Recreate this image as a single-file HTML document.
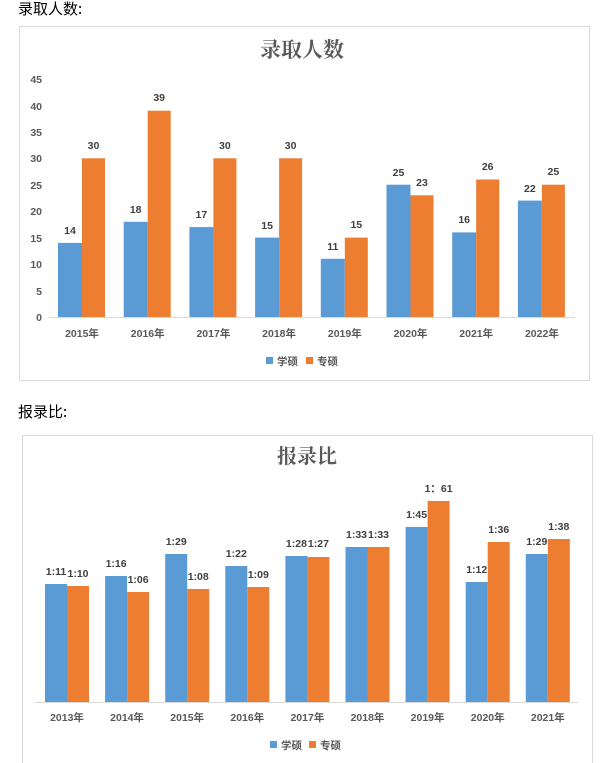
<!DOCTYPE html>
<html><head><meta charset="utf-8"><style>
body{margin:0;background:#fff;width:615px;height:763px;overflow:hidden}
svg{display:block}
text{font-family:"Liberation Sans","Noto Sans CJK SC",sans-serif}
.t{font-size:10.5px;font-weight:bold;fill:#404040}
.ax{font-size:10.5px;font-weight:bold;fill:#595959}
</style></head><body>
<svg width="615" height="763" xmlns="http://www.w3.org/2000/svg">
<text x="18" y="14" font-size="15" fill="#000" style="font-family:'Noto Sans CJK SC',sans-serif">录取人数:</text>
<rect x="19.5" y="26.5" width="570" height="354" fill="#fff" stroke="#d9d9d9"/>
<text x="302" y="57" font-size="21" font-weight="bold" fill="#595959" text-anchor="middle" style="font-family:'Noto Serif CJK SC',serif">录取人数</text>
<g class="ax" text-anchor="end">
<text x="42" y="321" class="ax">0</text><text x="42" y="295" class="ax">5</text><text x="42" y="268" class="ax">10</text><text x="42" y="242" class="ax">15</text><text x="42" y="215" class="ax">20</text><text x="42" y="189" class="ax">25</text><text x="42" y="162" class="ax">30</text><text x="42" y="136" class="ax">35</text><text x="42" y="110" class="ax">40</text><text x="42" y="83" class="ax">45</text>
</g>
<line x1="49" y1="317.5" x2="575" y2="317.5" stroke="#d9d9d9"/>
<g fill="#5b9bd5">
<rect x="58" y="242.9" width="24" height="74.1"/><rect x="123.7" y="221.8" width="24" height="95.2"/><rect x="189.4" y="227.1" width="24" height="89.9"/><rect x="255.1" y="237.6" width="24" height="79.4"/><rect x="320.8" y="258.8" width="24" height="58.2"/><rect x="386.5" y="184.7" width="24" height="132.3"/><rect x="452.2" y="232.4" width="24" height="84.6"/><rect x="517.9" y="200.6" width="24" height="116.4"/>
</g>
<g fill="#ed7d31">
<rect x="82" y="158.3" width="23" height="158.7"/><rect x="147.7" y="110.7" width="23" height="206.3"/><rect x="213.4" y="158.3" width="23" height="158.7"/><rect x="279.1" y="158.3" width="23" height="158.7"/><rect x="344.8" y="237.6" width="23" height="79.4"/><rect x="410.5" y="195.3" width="23" height="121.7"/><rect x="476.2" y="179.5" width="23" height="137.5"/><rect x="541.9" y="184.7" width="23" height="132.3"/>
</g>
<g class="t" text-anchor="middle">
<text x="70" y="234" class="t">14</text><text x="135.7" y="213" class="t">18</text><text x="201.4" y="218" class="t">17</text><text x="267.1" y="229" class="t">15</text><text x="332.8" y="250" class="t">11</text><text x="398.5" y="176" class="t">25</text><text x="464.2" y="223" class="t">16</text><text x="529.9" y="192" class="t">22</text>
<text x="93.5" y="149" class="t">30</text><text x="159.2" y="101" class="t">39</text><text x="224.9" y="149" class="t">30</text><text x="290.6" y="149" class="t">30</text><text x="356.3" y="228" class="t">15</text><text x="422" y="186" class="t">23</text><text x="487.7" y="170" class="t">26</text><text x="553.4" y="175" class="t">25</text>
</g>
<g class="ax" text-anchor="middle">
<text x="82" y="337" class="ax">2015年</text><text x="147.7" y="337" class="ax">2016年</text><text x="213.4" y="337" class="ax">2017年</text><text x="279.1" y="337" class="ax">2018年</text><text x="344.8" y="337" class="ax">2019年</text><text x="410.5" y="337" class="ax">2020年</text><text x="476.2" y="337" class="ax">2021年</text><text x="541.9" y="337" class="ax">2022年</text>
</g>
<rect x="266" y="357" width="7" height="7" fill="#5b9bd5"/><text x="277" y="365" class="ax">学硕</text>
<rect x="306" y="357" width="7" height="7" fill="#ed7d31"/><text x="317" y="365" class="ax">专硕</text>

<text x="18" y="417" font-size="15" fill="#000" style="font-family:'Noto Sans CJK SC',sans-serif">报录比:</text>
<rect x="22.5" y="435.5" width="570" height="340" fill="#fff" stroke="#d9d9d9"/>
<text x="307" y="463" font-size="20" font-weight="bold" fill="#595959" text-anchor="middle" style="font-family:'Noto Serif CJK SC',serif">报录比</text>
<line x1="35" y1="702.5" x2="578" y2="702.5" stroke="#d9d9d9"/>
<g fill="#5b9bd5">
<rect x="45" y="584" width="22" height="118"/><rect x="105.1" y="576" width="22" height="126"/><rect x="165.2" y="554" width="22" height="148"/><rect x="225.3" y="566" width="22" height="136"/><rect x="285.4" y="556" width="22" height="146"/><rect x="345.5" y="547" width="22" height="155"/><rect x="405.6" y="527" width="22" height="175"/><rect x="465.7" y="582" width="22" height="120"/><rect x="525.8" y="554" width="22" height="148"/>
</g>
<g fill="#ed7d31">
<rect x="67" y="586" width="22" height="116"/><rect x="127.1" y="592" width="22" height="110"/><rect x="187.2" y="589" width="22" height="113"/><rect x="247.3" y="587" width="22" height="115"/><rect x="307.4" y="557" width="22" height="145"/><rect x="367.5" y="547" width="22" height="155"/><rect x="427.6" y="501" width="22" height="201"/><rect x="487.7" y="542" width="22" height="160"/><rect x="547.8" y="539" width="22" height="163"/>
</g>
<g class="t" text-anchor="middle">
<text x="56" y="575" class="t">1:11</text><text x="116.1" y="567" class="t">1:16</text><text x="176.2" y="545" class="t">1:29</text><text x="236.3" y="557" class="t">1:22</text><text x="296.4" y="547" class="t">1:28</text><text x="356.5" y="538" class="t">1:33</text><text x="416.6" y="518" class="t">1:45</text><text x="476.7" y="573" class="t">1:12</text><text x="536.8" y="545" class="t">1:29</text>
<text x="78" y="577" class="t">1:10</text><text x="138.1" y="583" class="t">1:06</text><text x="198.2" y="580" class="t">1:08</text><text x="258.3" y="578" class="t">1:09</text><text x="318.4" y="547" class="t">1:27</text><text x="378.5" y="538" class="t">1:33</text><text x="438.6" y="492" class="t">1：61</text><text x="498.7" y="533" class="t">1:36</text><text x="558.8" y="530" class="t">1:38</text>
</g>
<g class="ax" text-anchor="middle">
<text x="67" y="721" class="ax">2013年</text><text x="127.1" y="721" class="ax">2014年</text><text x="187.2" y="721" class="ax">2015年</text><text x="247.3" y="721" class="ax">2016年</text><text x="307.4" y="721" class="ax">2017年</text><text x="367.5" y="721" class="ax">2018年</text><text x="427.6" y="721" class="ax">2019年</text><text x="487.7" y="721" class="ax">2020年</text><text x="547.8" y="721" class="ax">2021年</text>
</g>
<rect x="270" y="741" width="7" height="7" fill="#5b9bd5"/><text x="281" y="749" class="ax">学硕</text>
<rect x="309" y="741" width="7" height="7" fill="#ed7d31"/><text x="320" y="749" class="ax">专硕</text>
</svg>
</body></html>
